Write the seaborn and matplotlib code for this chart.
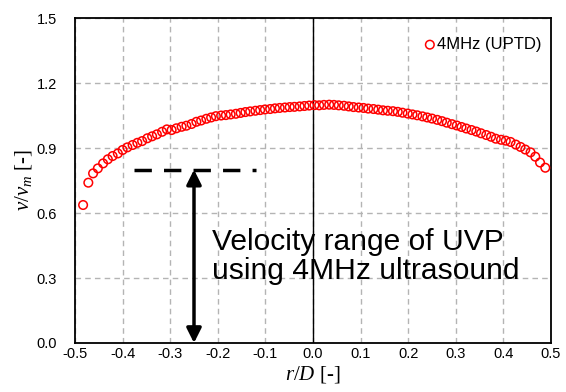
import numpy as np
import pandas as pd
import matplotlib
matplotlib.use("Agg")
import matplotlib.pyplot as plt
import seaborn as sns

# ---- data ----
r_over_D = [-0.483, -0.472, -0.462, -0.452, -0.441, -0.431, -0.421, -0.410, -0.400, -0.390,
            -0.379, -0.369, -0.359, -0.348, -0.338, -0.328, -0.317, -0.307, -0.297, -0.287,
            -0.276, -0.266, -0.255, -0.245, -0.235, -0.224, -0.214, -0.204, -0.193, -0.183,
            -0.173, -0.162, -0.152, -0.142, -0.132, -0.121, -0.111, -0.101, -0.090, -0.080,
            -0.070, -0.059, -0.049, -0.039, -0.028, -0.018, -0.008, 0.003, 0.013, 0.023,
            0.034, 0.044, 0.054, 0.065, 0.075, 0.085, 0.096, 0.106, 0.116, 0.127,
            0.137, 0.147, 0.157, 0.168, 0.178, 0.188, 0.199, 0.209, 0.219, 0.230,
            0.240, 0.250, 0.261, 0.271, 0.281, 0.292, 0.302, 0.312, 0.322, 0.333,
            0.343, 0.353, 0.364, 0.374, 0.384, 0.395, 0.405, 0.415, 0.426, 0.436,
            0.446, 0.457, 0.467, 0.477, 0.488]
v_over_vm = [0.637, 0.740, 0.783, 0.806, 0.829, 0.848, 0.863, 0.875, 0.891, 0.903,
             0.914, 0.924, 0.932, 0.945, 0.954, 0.963, 0.975, 0.986, 0.983, 0.991,
             0.998, 1.003, 1.011, 1.021, 1.027, 1.035, 1.041, 1.047, 1.050, 1.052,
             1.055, 1.058, 1.062, 1.066, 1.069, 1.072, 1.075, 1.078, 1.080, 1.083,
             1.085, 1.087, 1.089, 1.090, 1.092, 1.094, 1.096, 1.098, 1.097, 1.099,
             1.100, 1.099, 1.097, 1.095, 1.092, 1.089, 1.087, 1.085, 1.082, 1.080,
             1.077, 1.074, 1.072, 1.070, 1.067, 1.063, 1.059, 1.055, 1.051, 1.046,
             1.041, 1.036, 1.030, 1.024, 1.017, 1.010, 1.004, 0.997, 0.990, 0.983,
             0.976, 0.968, 0.960, 0.952, 0.943, 0.938, 0.934, 0.928, 0.916, 0.905,
             0.893, 0.880, 0.860, 0.833, 0.809]
series_label = "4MHz (UPTD)"
x_ticks = [-0.5, -0.4, -0.3, -0.2, -0.1, 0.0, 0.1, 0.2, 0.3, 0.4, 0.5]
y_ticks = [0.0, 0.3, 0.6, 0.9, 1.2, 1.5]
range_level = 0.8
range_x = -0.25
range_line = [-0.377, -0.119]
annot_text = "Velocity range of UVP\nusing 4MHz ultrasound"

sns.set_style("white")
plt.rcParams['font.family'] = ['Liberation Sans', 'DejaVu Sans']
plt.rcParams['mathtext.fontset'] = 'custom'
plt.rcParams['mathtext.rm'] = 'Liberation Serif'
plt.rcParams['mathtext.it'] = 'Liberation Serif:italic'
for k in ['text.color', 'axes.labelcolor', 'xtick.color', 'ytick.color']:
    plt.rcParams[k] = 'black'

df = pd.DataFrame({"x": r_over_D, "y": v_over_vm})

fig = plt.figure(figsize=(5.66, 3.92), dpi=100)
ax = fig.add_axes([0.1325, 0.125, 0.841, 0.829])

ax.grid(True, color="#b4b4b4", linestyle=(0, (4, 3)), linewidth=1.0)
ax.set_axisbelow(True)
ax.axvline(0.0, color="black", linewidth=1.0, zorder=1)

sns.scatterplot(data=df, x="x", y="y", ax=ax, marker="o", s=38,
                facecolors="none", edgecolor="red", linewidth=1.1,
                label=series_label, zorder=3)

# dashed range line and double arrow
ax.plot(range_line, [range_level, range_level], color="black", linewidth=2.5,
        linestyle=(0, (5, 3.5)), zorder=4)
ax.annotate("", xy=(range_x, 0.0), xytext=(range_x, range_level),
            arrowprops=dict(arrowstyle="<|-|>", color="black", lw=2.5,
                            mutation_scale=22, shrinkA=0, shrinkB=0), zorder=4)
ax.text(-0.212, 0.40, annot_text, fontsize=21.6, ha="left", va="center",
        linespacing=1.03, color="black", zorder=5)

ax.set_xlim(-0.5, 0.5)
ax.set_ylim(0.0, 1.5)
ax.set_xticks(x_ticks)
ax.set_yticks(y_ticks)
ax.set_xticklabels([f"{t:.1f}" for t in x_ticks], fontsize=10.5)
ax.set_yticklabels([f"{t:.1f}" for t in y_ticks], fontsize=10.5)
ax.tick_params(axis="x", length=0, pad=3)
ax.tick_params(axis="y", length=0, pad=13)
for s in ax.spines.values():
    s.set_color("black")
    s.set_linewidth(1.3)

ax.set_xlabel(r"$r/D$ [-]", fontsize=15, family="Liberation Serif", labelpad=2)
ax.set_ylabel(r"$v/v_m$ [-]", fontsize=15, family="Liberation Serif", labelpad=2)

leg = ax.legend(loc="upper right", frameon=False, fontsize=12, handletextpad=-0.2,
                handlelength=1.2, borderaxespad=0.0, markerscale=1.0,
                bbox_to_anchor=(0.993, 0.962))

fig.savefig("out.png", dpi=100)
